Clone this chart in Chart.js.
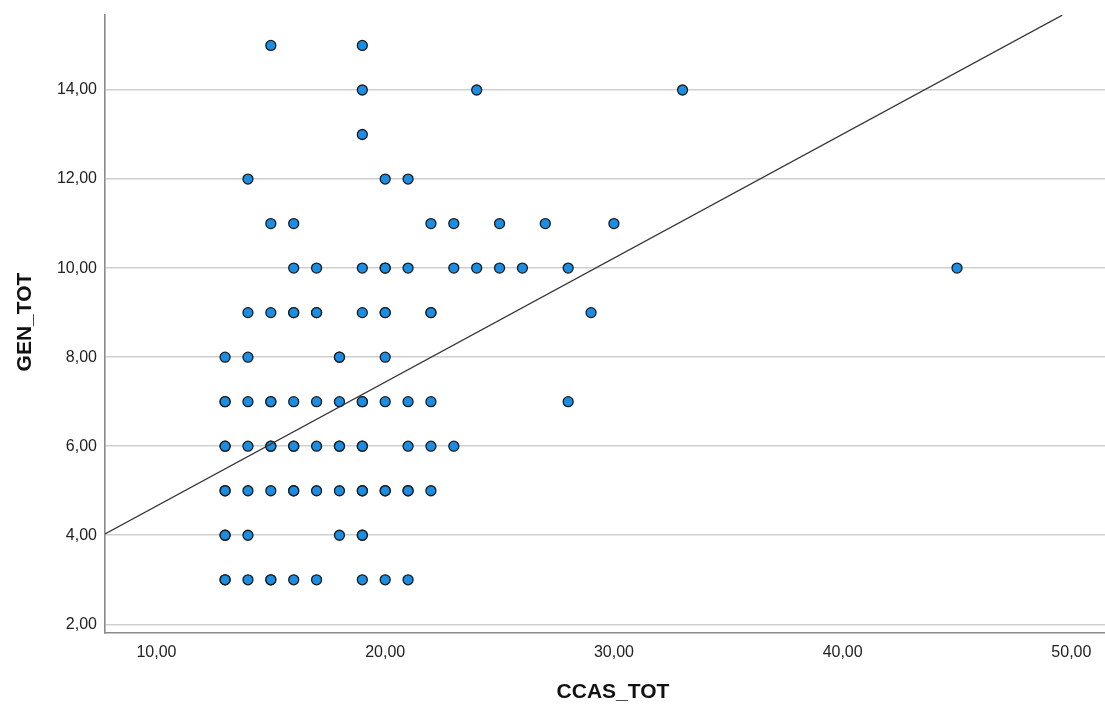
<!DOCTYPE html>
<html>
<head>
<meta charset="utf-8">
<script src="https://cdn.jsdelivr.net/npm/chart.js@4/dist/chart.umd.min.js"></script>
<style>
  html, body { margin: 0; padding: 0; background: #ffffff; }
  #wrap { width: 1105px; height: 706px; }
</style>
</head>
<body>
<div id="wrap"><canvas id="c" width="1105" height="706"></canvas></div>
<script>
// CCAS_TOT (x) and GEN_TOT (y) per case; repeated pairs are cases with identical scores
const ccasTot = [
  15, 19,
  19, 24, 33,
  19,
  14, 20, 21,
  15, 16, 22, 23, 25, 27, 30,
  16, 17, 19, 20, 20, 21, 23, 24, 25, 26, 28, 45,
  14, 15, 16, 16, 17, 17, 19, 20, 20, 22, 22, 29,
  13, 14, 18, 18, 20,
  13, 13, 14, 15, 15, 16, 17, 18, 19, 19, 20, 21, 22, 28,
  13, 13, 14, 15, 15, 16, 16, 17, 18, 18, 19, 19, 21, 22, 23,
  13, 13, 14, 15, 16, 16, 17, 18, 19, 19, 20, 20, 21, 21, 22,
  13, 13, 14, 18, 19, 19,
  13, 13, 14, 15, 15, 16, 17, 19, 20, 21
];
const genTot = [
  15, 15,
  14, 14, 14,
  13,
  12, 12, 12,
  11, 11, 11, 11, 11, 11, 11,
  10, 10, 10, 10, 10, 10, 10, 10, 10, 10, 10, 10,
  9, 9, 9, 9, 9, 9, 9, 9, 9, 9, 9, 9,
  8, 8, 8, 8, 8,
  7, 7, 7, 7, 7, 7, 7, 7, 7, 7, 7, 7, 7, 7,
  6, 6, 6, 6, 6, 6, 6, 6, 6, 6, 6, 6, 6, 6, 6,
  5, 5, 5, 5, 5, 5, 5, 5, 5, 5, 5, 5, 5, 5, 5,
  4, 4, 4, 4, 4, 4,
  3, 3, 3, 3, 3, 3, 3, 3, 3, 3
];

// Fit line end points (x, y)
const fitX = [7.75, 49.6];
const fitY = [4.03, 15.68];

// Axis ticks
const xTicks = [10, 20, 30, 40, 50];
const yTicks = [2, 4, 6, 8, 10, 12, 14];
const xTickLabels = ['10,00', '20,00', '30,00', '40,00', '50,00'];
const yTickLabels = ['2,00', '4,00', '6,00', '8,00', '10,00', '12,00', '14,00'];

const xTitle = 'CCAS_TOT';
const yTitle = 'GEN_TOT';

const points = ccasTot.map((x, i) => ({ x: x, y: genTot[i] }));
const fitLine = fitX.map((x, i) => ({ x: x, y: fitY[i] }));

const FONT = '"Liberation Sans", Arial, sans-serif';

// Axis titles drawn outside the plot area
const axisTitles = {
  id: 'axisTitles',
  afterDraw(chart) {
    const ctx = chart.ctx;
    ctx.save();
    ctx.fillStyle = '#111';
    ctx.font = 'bold 21px ' + FONT;
    ctx.textAlign = 'center';
    ctx.textBaseline = 'middle';
    ctx.fillText(xTitle, 613, 692);
    ctx.translate(25, 322);
    ctx.rotate(-Math.PI / 2);
    ctx.fillText(yTitle, 0, 0);
    ctx.restore();
  }
};

new Chart(document.getElementById('c'), {
  type: 'scatter',
  data: {
    datasets: [
      {
        type: 'line',
        data: fitLine,
        borderColor: '#333333',
        borderWidth: 1.3,
        pointRadius: 0,
        fill: false,
        order: 0
      },
      {
        data: points,
        backgroundColor: 'rgb(26,142,228)',
        borderColor: '#1c1c1c',
        borderWidth: 1.3,
        pointRadius: 5,
        pointHoverRadius: 5,
        order: 1
      }
    ]
  },
  options: {
    responsive: false,
    devicePixelRatio: 1,
    animation: false,
    events: [],
    layout: { autoPadding: false, padding: { top: 15, left: 0, right: 0, bottom: 0 } },
    plugins: {
      legend: { display: false },
      tooltip: { enabled: false }
    },
    scales: {
      x: {
        type: 'linear',
        min: 7.75,
        max: 51.47,
        afterFit(scale) {
          scale.height = 73;
          scale.paddingLeft = 0;
          scale.paddingRight = 0;
        },
        afterBuildTicks(scale) { scale.ticks = xTicks.map(v => ({ value: v })); },
        grid: { display: false, drawTicks: false },
        border: { display: true, color: '#8a8a8a', width: 1.6 },
        ticks: {
          padding: 10,
          color: '#222',
          font: { family: FONT, size: 16 },
          maxRotation: 0,
          callback: (v) => xTickLabels[xTicks.indexOf(v)]
        }
      },
      y: {
        type: 'linear',
        min: 1.805,
        max: 15.684,
        afterFit(scale) {
          scale.width = 105;
          scale.paddingTop = 0;
          scale.paddingBottom = 0;
        },
        afterBuildTicks(scale) { scale.ticks = yTicks.map(v => ({ value: v })); },
        grid: { display: true, color: '#cfcfcf', lineWidth: 1.6, drawTicks: false },
        border: { display: true, color: '#8a8a8a', width: 1.6 },
        ticks: {
          padding: 8,
          color: '#222',
          font: { family: FONT, size: 16 },
          callback: (v) => yTickLabels[yTicks.indexOf(v)]
        }
      }
    }
  },
  plugins: [axisTitles]
});
</script>
</body>
</html>
